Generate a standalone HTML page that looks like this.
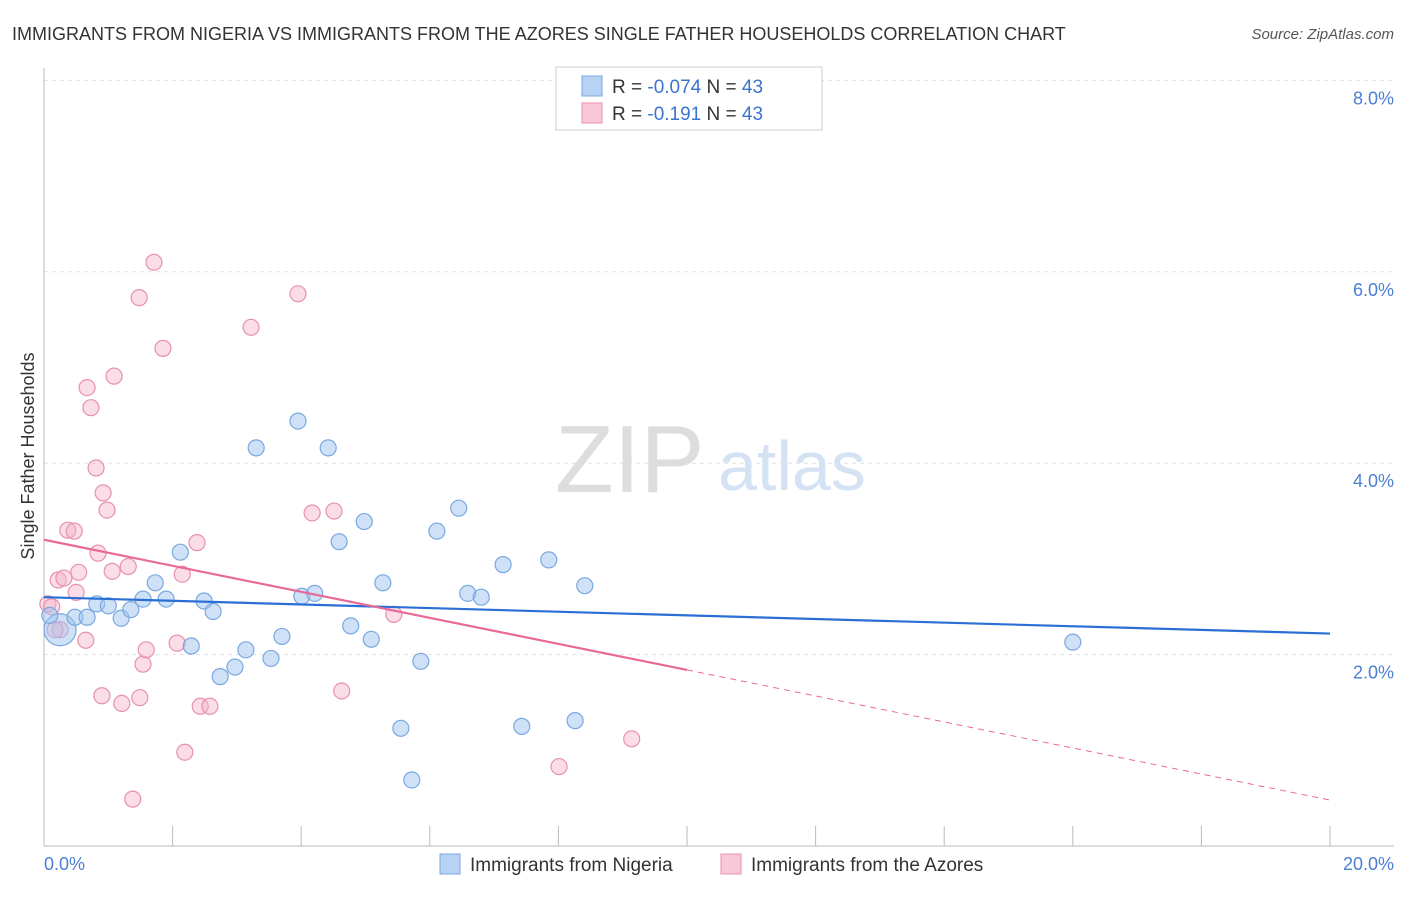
<!DOCTYPE html>
<html><head><meta charset="utf-8"><style>
body{margin:0;background:#fff;font-family:"Liberation Sans",sans-serif;}
svg text{font-family:"Liberation Sans",sans-serif;}
</style></head><body>
<svg width="1406" height="892">
<text x="12" y="40" font-size="18" fill="#333">IMMIGRANTS FROM NIGERIA VS IMMIGRANTS FROM THE AZORES SINGLE FATHER HOUSEHOLDS CORRELATION CHART</text>
<text x="1394" y="39" font-size="15" fill="#555" text-anchor="end" font-style="italic">Source: ZipAtlas.com</text>
<g id="grid"></g>
<text x="555" y="492" font-size="96" fill="#ddd" font-family="Liberation Serif">ZIP</text>
<text x="718" y="490" font-size="70" fill="#d4e2f4">atlas</text>
<g id="marks"></g>
<text x="34" y="456" font-size="18" fill="#333" text-anchor="middle" transform="rotate(-90 34 456)">Single Father Households</text>
<text x="44" y="870" font-size="18" fill="#4a7fd4">0.0%</text>
<text x="1394" y="870" font-size="18" fill="#4a7fd4" text-anchor="end">20.0%</text>
<g>
<rect x="556" y="67" width="266" height="63" fill="#fff" stroke="#ccc"/>
<rect x="582" y="76" width="20" height="20" fill="#b8d2f4" stroke="#7aa8e0"/>
<rect x="582" y="103" width="20" height="20" fill="#f8c8d6" stroke="#e890b0"/>
<text x="612" y="93" font-size="19" fill="#333">R = <tspan fill="#3b73d0">-0.074</tspan>   N = <tspan fill="#3b73d0">43</tspan></text>
<text x="612" y="120" font-size="19" fill="#333">R =  <tspan fill="#3b73d0"> -0.191</tspan>   N = <tspan fill="#3b73d0">43</tspan></text>
</g>
<g>
<rect x="440" y="854" width="20" height="20" fill="#b8d2f4" stroke="#7aa8e0"/>
<text x="470" y="871" font-size="19" fill="#333">Immigrants from Nigeria</text>
<rect x="721" y="854" width="20" height="20" fill="#f8c8d6" stroke="#e890b0"/>
<text x="751" y="871" font-size="19" fill="#333">Immigrants from the Azores</text>
</g>
</svg>
<script>
const yTicks=[2,4,6,8];
const yTickLabels=["2.0%","4.0%","6.0%","8.0%"];
const blueX=[0.25,0.48,0.67,0.82,1.00,1.20,1.35,1.54,1.73,1.90,2.12,2.29,2.49,2.63,2.74,2.97,3.14,3.30,3.53,3.70,3.95,4.01,4.21,4.42,4.59,4.77,4.98,5.09,5.27,5.55,5.72,5.86,6.11,6.45,6.59,6.80,7.14,7.43,7.85,8.26,8.41,16.00,0.09];
const blueY=[2.26,2.39,2.39,2.53,2.51,2.38,2.47,2.58,2.75,2.58,3.07,2.09,2.56,2.45,1.77,1.87,2.05,4.16,1.96,2.19,4.44,2.61,2.64,4.16,3.18,2.30,3.39,2.16,2.75,1.23,0.69,1.93,3.29,3.53,2.64,2.60,2.94,1.25,2.99,1.31,2.72,2.13,2.41];
const pinkX=[0.06,0.12,0.22,0.31,0.25,0.37,0.47,0.50,0.54,0.65,0.67,0.73,0.81,0.84,0.90,0.92,0.98,1.06,1.09,1.21,1.31,1.38,1.48,1.49,1.54,1.59,1.71,1.85,2.07,2.15,2.19,2.38,2.43,2.58,3.22,3.95,4.17,4.51,4.63,5.44,8.01,9.14,0.17];
const pinkY=[2.53,2.50,2.78,2.80,2.26,3.30,3.29,2.65,2.86,2.15,4.79,4.58,3.95,3.06,1.57,3.69,3.51,2.87,4.91,1.49,2.92,0.49,5.73,1.55,1.90,2.05,6.10,5.20,2.12,2.84,0.98,3.17,1.46,1.46,5.42,5.77,3.48,3.50,1.62,2.42,0.83,1.12,2.26];
const blueTrend=[2.60,2.22];
const pinkTrend=[3.20,0.48];
const pinkSolidEnd=10;
const NS="http://www.w3.org/2000/svg";
const xs=v=>44+v*64.3, ys=v=>846-v*95.7;
function mk(t,a,p){const e=document.createElementNS(NS,t);for(const k in a)e.setAttribute(k,a[k]);p.appendChild(e);return e;}
const g=document.getElementById('grid'),m=document.getElementById('marks');
yTicks.forEach((t,i)=>{
 const l=mk('line',{x1:44,x2:1394,y1:ys(t),y2:ys(t),stroke:'#e0e0e0','stroke-dasharray':'4,4'},g);
 
 
 const tx=mk('text',{x:1394,y:ys(t)+24,'font-size':18,fill:'#4a7fd4','text-anchor':'end'},g);
 tx.textContent=yTickLabels[i];
 
 
});
const ax=mk('line',{x1:44,x2:44,y1:68,y2:846,stroke:'#bbb'},g);


const bx=mk('line',{x1:44,x2:1394,y1:846,y2:846,stroke:'#bbb'},g);


for(let i=0;i<=10;i++){const t=mk('line',{x1:xs(i*2),x2:xs(i*2),y1:826,y2:846,stroke:'#bbb'},g);
 
 }
function pts(X,Y,fill,stroke,name){X.forEach((x,i)=>{const c=mk('circle',{cx:xs(x),cy:ys(Y[i]),r:(name==='nigeria-point'&&i===0)?16:8,fill:fill,stroke:stroke,'stroke-width':1.2},m);
 
 });}
pts(pinkX,pinkY,'rgba(244,180,200,0.45)','#e890b0','azores-point');
pts(blueX,blueY,'rgba(160,196,240,0.5)','#7aa8e0','nigeria-point');
const bl=mk('line',{x1:xs(0),y1:ys(blueTrend[0]),x2:xs(20),y2:ys(blueTrend[1]),stroke:'#2a6fd6','stroke-width':2.2},m);


const pAt=x=>pinkTrend[0]+(pinkTrend[1]-pinkTrend[0])*x/20;
const pl=mk('line',{x1:xs(0),y1:ys(pAt(0)),x2:xs(pinkSolidEnd),y2:ys(pAt(pinkSolidEnd)),stroke:'#e86a96','stroke-width':2.2},m);


const pd=mk('line',{x1:xs(pinkSolidEnd),y1:ys(pAt(pinkSolidEnd)),x2:xs(20),y2:ys(pAt(20)),stroke:'#e86a96','stroke-width':1,'stroke-dasharray':'6,5'},m);


</script>
</body></html>
